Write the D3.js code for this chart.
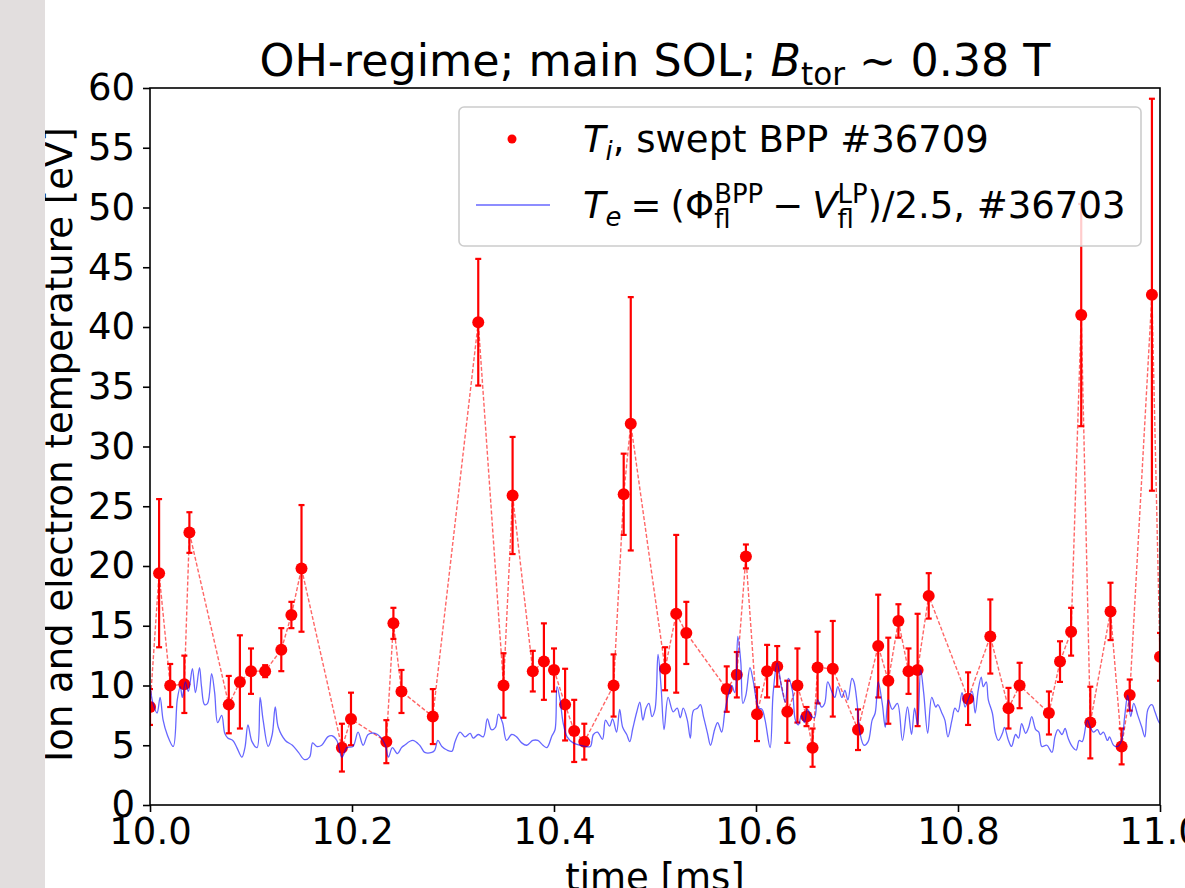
<!DOCTYPE html>
<html>
<head>
<meta charset="utf-8">
<script src="https://cdn.jsdelivr.net/npm/d3@7"></script>
<style>
  body { margin: 0; background: #fff; }
  svg { display: block; font-family: "DejaVu Sans", sans-serif; }
</style>
</head>
<body>
<div id="chart"></div>
<script>
const width = 1185, height = 888,
    margin = ({ top: 88, right: 25, bottom: 83, left: 150 });

// Ti from swept BPP #36709: time [ms], value [eV], error [eV]
const tiTime = [
  10.000, 10.009, 10.020, 10.034, 10.039, 10.078, 10.089, 10.100, 10.114, 10.130,
  10.140, 10.150, 10.190, 10.199, 10.234, 10.241, 10.249, 10.280, 10.325, 10.350,
  10.359, 10.379, 10.390, 10.400, 10.411, 10.420, 10.430, 10.459, 10.469, 10.476,
  10.510, 10.521, 10.531, 10.571, 10.581, 10.590, 10.601, 10.611, 10.621, 10.631,
  10.641, 10.650, 10.656, 10.661, 10.676, 10.701, 10.721, 10.731, 10.741, 10.751,
  10.760, 10.771, 10.810, 10.832, 10.850, 10.861, 10.890, 10.901, 10.912, 10.922,
  10.931, 10.951, 10.962, 10.970, 10.992, 11.000];
const tiValue = [
  8.2, 19.4, 10.0, 10.1, 22.8, 8.4, 10.3, 11.2, 11.2, 13.0,
  15.9, 19.8, 4.8, 7.2, 5.3, 15.2, 9.5, 7.4, 40.4, 10.0,
  25.9, 11.2, 12.0, 11.3, 8.4, 6.2, 5.3, 10.0, 26.0, 31.9,
  11.4, 16.0, 14.4, 9.7, 10.9, 20.8, 7.6, 11.2, 11.6, 7.8,
  10.0, 7.4, 4.8, 11.5, 11.4, 6.3, 13.3, 10.4, 15.4, 11.2,
  11.3, 17.5, 8.9, 14.1, 8.1, 10.0, 7.7, 12.0, 14.5, 41.0,
  6.9, 16.2, 4.9, 9.2, 42.7, 12.4];
const tiErr = [
  1.5, 6.2, 1.8, 2.4, 1.7, 2.4, 3.9, 1.9, 0.5, 1.8,
  1.1, 5.3, 2.0, 2.2, 1.8, 1.3, 1.8, 2.3, 5.3, 2.7,
  4.9, 1.7, 3.2, 1.8, 3.0, 2.6, 1.5, 2.6, 3.4, 10.6,
  1.8, 6.6, 2.6, 1.9, 1.9, 1.0, 2.25, 2.2, 1.7, 2.6,
  3.1, 0.8, 1.6, 3.0, 4.0, 1.7, 4.3, 3.6, 1.4, 1.9,
  4.7, 1.9, 2.2, 3.1, 1.7, 1.9, 1.8, 1.7, 2.0, 9.3,
  3.0, 2.4, 1.5, 1.3, 16.4, 2.0];

// Te = (Phi_fl^BPP - V_fl^LP)/2.5, #36703
const teTime = [
  10.000, 10.003, 10.007, 10.010, 10.013, 10.017, 10.023, 10.027, 10.030, 10.032,
  10.035, 10.038, 10.042, 10.045, 10.049, 10.051, 10.054, 10.057, 10.061, 10.064,
  10.067, 10.071, 10.074, 10.077, 10.082, 10.086, 10.091, 10.094, 10.097, 10.101,
  10.106, 10.109, 10.112, 10.117, 10.121, 10.124, 10.127, 10.134, 10.141, 10.147,
  10.153, 10.158, 10.161, 10.165, 10.170, 10.176, 10.180, 10.185, 10.190, 10.195,
  10.201, 10.206, 10.211, 10.216, 10.223, 10.228, 10.233, 10.236, 10.240, 10.245,
  10.249, 10.252, 10.260, 10.267, 10.272, 10.279, 10.282, 10.285, 10.289, 10.294,
  10.299, 10.302, 10.307, 10.312, 10.317, 10.320, 10.325, 10.330, 10.334, 10.338,
  10.342, 10.345, 10.349, 10.353, 10.358, 10.363, 10.368, 10.373, 10.379, 10.384,
  10.389, 10.393, 10.398, 10.401, 10.403, 10.406, 10.409, 10.413, 10.419, 10.426,
  10.431, 10.436, 10.439, 10.443, 10.448, 10.451, 10.455, 10.458, 10.462, 10.465,
  10.468, 10.472, 10.475, 10.478, 10.482, 10.485, 10.488, 10.491, 10.494, 10.497,
  10.500, 10.503, 10.506, 10.509, 10.513, 10.518, 10.522, 10.525, 10.528, 10.532,
  10.535, 10.538, 10.542, 10.545, 10.548, 10.552, 10.555, 10.559, 10.562, 10.566,
  10.569, 10.572, 10.576, 10.579, 10.582, 10.585, 10.587, 10.590, 10.594, 10.597,
  10.601, 10.603, 10.606, 10.609, 10.614, 10.617, 10.621, 10.625, 10.629, 10.632,
  10.636, 10.639, 10.642, 10.645, 10.648, 10.651, 10.655, 10.658, 10.661, 10.665,
  10.668, 10.671, 10.675, 10.678, 10.681, 10.685, 10.688, 10.691, 10.695, 10.697,
  10.700, 10.703, 10.707, 10.711, 10.715, 10.718, 10.721, 10.725, 10.728, 10.731,
  10.735, 10.740, 10.745, 10.750, 10.754, 10.757, 10.760, 10.763, 10.766, 10.770,
  10.774, 10.778, 10.780, 10.784, 10.787, 10.790, 10.794, 10.797, 10.800, 10.804,
  10.807, 10.810, 10.814, 10.817, 10.820, 10.823, 10.825, 10.828, 10.830, 10.834,
  10.837, 10.840, 10.844, 10.846, 10.850, 10.853, 10.857, 10.860, 10.863, 10.867,
  10.870, 10.873, 10.877, 10.880, 10.883, 10.888, 10.893, 10.896, 10.899, 10.903,
  10.906, 10.909, 10.913, 10.917, 10.920, 10.923, 10.928, 10.931, 10.934, 10.938,
  10.941, 10.944, 10.948, 10.950, 10.954, 10.958, 10.962, 10.965, 10.968, 10.971,
  10.974, 10.978, 10.982, 10.985, 10.988, 10.992, 10.995, 10.998, 11.000];
const teValue = [
  10.0, 8.5, 7.7, 9.0, 7.1, 5.9, 4.9, 8.8, 9.9, 9.0,
  10.3, 9.5, 11.4, 9.4, 11.5, 9.9, 8.4, 8.5, 11.0, 9.4,
  6.9, 7.5, 6.0, 5.6, 5.4, 4.8, 4.0, 4.8, 6.7, 5.3,
  4.8, 9.0, 7.1, 4.9, 5.9, 8.2, 6.5, 5.4, 5.0, 4.4,
  3.8, 4.0, 5.2, 4.9, 5.0, 5.7, 5.8, 5.4, 4.0, 4.8,
  4.9, 6.1, 5.0, 5.9, 6.0, 5.7, 5.0, 4.0, 4.8, 4.3,
  4.8, 5.0, 5.4, 5.0, 4.4, 4.4, 4.6, 5.4, 4.9, 4.6,
  4.5, 5.3, 6.1, 5.7, 6.0, 5.6, 5.9, 5.7, 7.2, 6.3,
  6.5, 7.6, 6.9, 5.4, 5.9, 5.7, 5.2, 5.0, 5.4, 5.4,
  5.0, 4.8, 5.8, 6.3, 9.9, 8.8, 6.9, 5.7, 5.2, 5.0,
  4.9, 4.9, 5.9, 6.1, 5.5, 7.1, 6.6, 7.2, 6.1, 8.0,
  6.5, 5.9, 5.3, 6.4, 7.8, 8.6, 7.1, 8.1, 8.5, 7.4,
  8.0, 12.6, 9.9, 6.3, 9.0, 7.8, 8.1, 7.3, 8.1, 7.1,
  5.6, 7.9, 8.1, 8.4, 7.4, 6.0, 5.0, 6.3, 6.9, 6.1,
  7.7, 9.0, 10.0, 9.4, 14.1, 11.9, 8.5, 9.2, 11.5, 10.5,
  8.5, 8.1, 8.0, 7.1, 4.8, 9.4, 11.9, 10.0, 8.6, 10.6,
  9.6, 7.1, 6.7, 7.5, 6.9, 8.0, 7.4, 7.3, 8.8, 8.2,
  8.5, 10.3, 9.5, 9.0, 9.9, 9.0, 9.6, 8.8, 10.6, 10.3,
  8.6, 6.0, 5.0, 5.3, 7.1, 7.7, 10.3, 8.5, 6.5, 8.8,
  8.0, 8.5, 5.4, 8.2, 5.9, 8.1, 6.7, 11.3, 9.4, 6.0,
  9.0, 8.2, 8.4, 7.7, 7.1, 5.7, 7.1, 8.1, 7.8, 9.4,
  8.2, 8.8, 9.5, 7.7, 9.6, 10.7, 9.9, 10.3, 8.8, 7.7,
  6.0, 5.4, 6.0, 6.5, 5.4, 4.9, 5.9, 5.6, 6.8, 6.0,
  6.5, 7.4, 6.3, 6.1, 4.9, 5.0, 4.4, 5.7, 6.3, 5.9,
  6.4, 5.6, 4.9, 4.6, 5.4, 5.3, 7.1, 6.5, 6.1, 6.3,
  5.9, 6.1, 5.4, 5.7, 5.0, 4.9, 5.4, 7.4, 9.2, 7.4,
  8.5, 7.5, 6.5, 5.7, 8.0, 8.4, 7.8, 7.1, 6.8];

const xTicks = [10.0, 10.2, 10.4, 10.6, 10.8, 11.0];
const yTicks = [0, 5, 10, 15, 20, 25, 30, 35, 40, 45, 50, 55, 60];

const ti = tiTime.map((t, i) => ({ t: t, v: tiValue[i], e: tiErr[i] }));
const te = teTime.map((t, i) => ({ t: t, v: teValue[i] }));

const fs = 37; // base font size

const svg = d3.select("#chart")
    .append("svg")
    .attr("width", width)
    .attr("height", height);

let x = d3.scaleLinear()
    .domain([10, 11])
    .range([margin.left, width - margin.right]);

let y = d3.scaleLinear()
    .domain([0, 60])
    .range([height - margin.bottom, margin.top]);

svg.append("clipPath").attr("id", "clip")
  .append("rect")
    .attr("x", margin.left).attr("y", margin.top)
    .attr("width", x(11) - margin.left)
    .attr("height", y(0) - margin.top);

const plot = svg.append("g").attr("clip-path", "url(#clip)");

// dashed connecting line for Ti
plot.append("path")
    .datum(ti)
    .attr("d", d3.line().x(d => x(d.t)).y(d => y(d.v)))
    .attr("fill", "none")
    .attr("stroke", "red")
    .attr("stroke-opacity", 0.6)
    .attr("stroke-width", 1.4)
    .attr("stroke-dasharray", "4,2");

// error bars
const eb = plot.append("g").attr("stroke", "red").attr("stroke-width", 2.2);
eb.selectAll("line.bar").data(ti).join("line")
    .attr("class", "bar")
    .attr("x1", d => x(d.t)).attr("x2", d => x(d.t))
    .attr("y1", d => y(d.v - d.e)).attr("y2", d => y(d.v + d.e));
eb.selectAll("line.capt").data(ti).join("line")
    .attr("class", "capt")
    .attr("x1", d => x(d.t) - 3).attr("x2", d => x(d.t) + 3)
    .attr("y1", d => y(d.v + d.e)).attr("y2", d => y(d.v + d.e));
eb.selectAll("line.capb").data(ti).join("line")
    .attr("class", "capb")
    .attr("x1", d => x(d.t) - 3).attr("x2", d => x(d.t) + 3)
    .attr("y1", d => y(d.v - d.e)).attr("y2", d => y(d.v - d.e));

// markers
plot.selectAll("circle").data(ti).join("circle")
    .attr("cx", d => x(d.t))
    .attr("cy", d => y(d.v))
    .attr("r", 6)
    .attr("fill", "red");

// Te trace
plot.append("path")
    .datum(te)
    .attr("d", d3.line().x(d => x(d.t)).y(d => y(d.v)).curve(d3.curveCatmullRom.alpha(0.5)))
    .attr("fill", "none")
    .attr("stroke", "blue")
    .attr("stroke-opacity", 0.6)
    .attr("stroke-width", 1.3);

// axes
const yAxis = svg.append("g")
    .attr("transform", `translate(${margin.left},0)`)
    .call(d3.axisLeft(y).tickValues(yTicks).tickSize(7).tickPadding(8).tickSizeOuter(0));
const xAxis = svg.append("g")
    .attr("transform", `translate(0,${y(0)})`)
    .call(d3.axisBottom(x).tickValues(xTicks).tickFormat(d3.format(".1f")).tickSize(7).tickPadding(6).tickSizeOuter(0));
[yAxis, xAxis].forEach(a => {
  a.select(".domain").remove();
  a.selectAll(".tick line").attr("stroke", "#000").attr("stroke-width", 1.6);
  a.selectAll(".tick text").attr("fill", "#000")
    .style("font-family", "DejaVu Sans").style("font-size", fs + "px");
});

// frame
svg.append("rect")
    .attr("x", margin.left).attr("y", margin.top)
    .attr("width", x(11) - margin.left)
    .attr("height", y(0) - margin.top)
    .attr("fill", "none")
    .attr("stroke", "#000")
    .attr("stroke-width", 1.6);

// title
const title = svg.append("text")
    .attr("x", (x(10) + x(11)) / 2)
    .attr("y", 76)
    .attr("text-anchor", "middle")
    .style("font-size", (fs * 1.2) + "px");
title.append("tspan").text("OH-regime; main SOL; ");
title.append("tspan").attr("font-style", "italic").text("B");
title.append("tspan").attr("dy", 9).style("font-size", (fs * 1.2 * 0.7) + "px").text("tor");
title.append("tspan").attr("dy", -9).text(" \u223C 0.38 T");

// axis labels
svg.append("text")
    .attr("x", (x(10) + x(11)) / 2)
    .attr("y", 890)
    .attr("text-anchor", "middle")
    .style("font-size", fs + "px")
    .text("time [ms]");

svg.append("text")
    .attr("transform", `translate(72,${(y(0) + y(60)) / 2 - 2}) rotate(-90)`)
    .attr("text-anchor", "middle")
    .style("font-size", fs + "px")
    .text("Ion and electron temperature [eV]");

// legend
const lg = svg.append("g");
lg.append("rect")
    .attr("x", 459).attr("y", 107)
    .attr("width", 682).attr("height", 139)
    .attr("rx", 5)
    .attr("fill", "#fff").attr("fill-opacity", 0.8)
    .attr("stroke", "#ccc").attr("stroke-width", 1.6);

lg.append("circle").attr("cx", 512).attr("cy", 139).attr("r", 4.5).attr("fill", "red");
lg.append("line")
    .attr("x1", 476).attr("x2", 550).attr("y1", 205).attr("y2", 205)
    .attr("stroke", "blue").attr("stroke-opacity", 0.6).attr("stroke-width", 1.3);

// piecewise math-like text
function mathRow(x0, yb, pieces) {
  let cx = x0;
  pieces.forEach(p => {
    if (p.gap) { cx += p.gap; return; }
    if (p.stack) {
      const ws = p.stack.map(s => {
        const t = lg.append("text").attr("x", cx).attr("y", yb + s.dy)
          .style("font-size", (fs * 0.7) + "px")
          .text(s.t);
        return t.node().getComputedTextLength();
      });
      cx += d3.max(ws);
    } else {
      const t = lg.append("text").attr("x", cx).attr("y", yb + (p.dy || 0))
        .style("font-size", (p.small ? fs * 0.7 : fs) + "px")
        .attr("font-style", p.italic ? "italic" : null)
        .style("white-space", "pre")
        .text(p.t);
      cx += t.node().getComputedTextLength();
    }
  });
}

mathRow(583, 152, [
  { t: "T", italic: true },
  { t: "i", italic: true, small: true, dy: 8 },
  { t: ", swept BPP #36709" }
]);
mathRow(583, 218, [
  { t: "T", italic: true },
  { t: "e", italic: true, small: true, dy: 8 },
  { gap: 9 }, { t: "=" }, { gap: 9 },
  { t: "(\u03A6" },
  { stack: [{ t: "fl", dy: 10 }, { t: "BPP", dy: -15 }] },
  { gap: 9 }, { t: "\u2212" }, { gap: 9 },
  { t: "V", italic: true },
  { stack: [{ t: "fl", dy: 10 }, { t: "LP", dy: -15 }] },
  { t: ")/2.5, #36703" }
]);

// grey strip on the left edge
svg.append("rect")
    .attr("x", 0).attr("y", 0)
    .attr("width", 45).attr("height", height)
    .attr("fill", "#e2dede");
</script>
</body>
</html>
